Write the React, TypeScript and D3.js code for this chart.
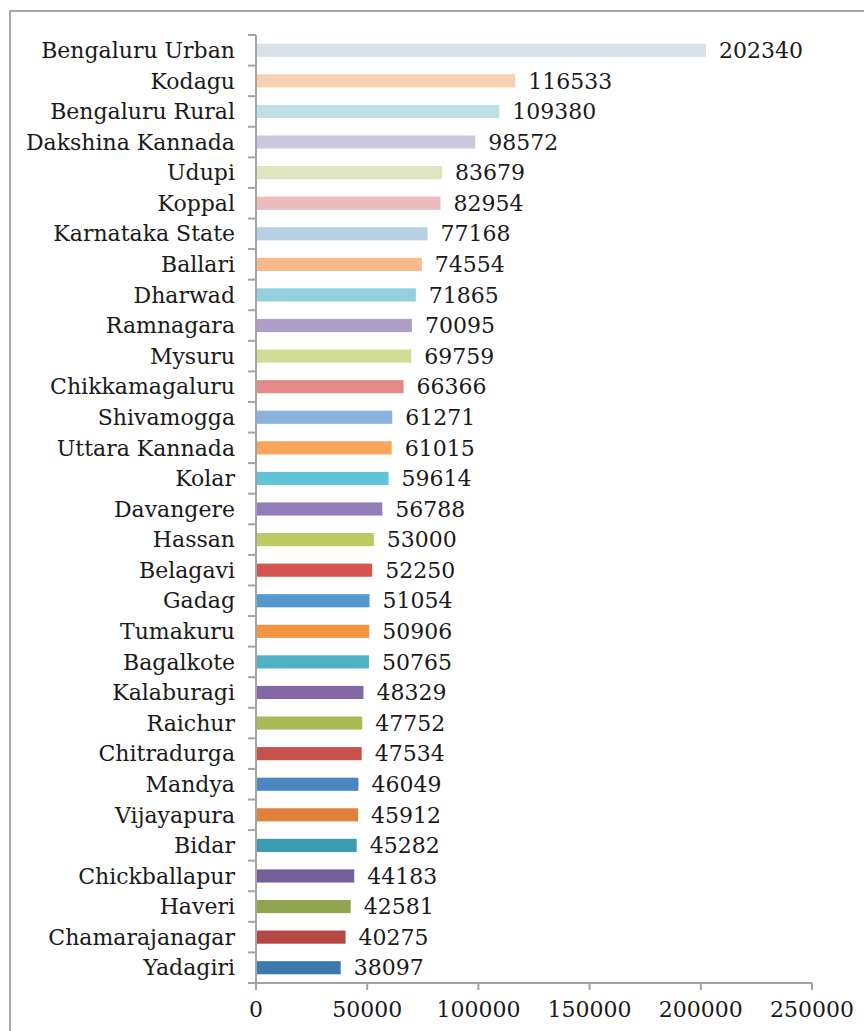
import { useEffect, useRef } from 'react';
import * as d3 from 'd3';

const districts = [
  'Bengaluru Urban', 'Kodagu', 'Bengaluru Rural', 'Dakshina Kannada', 'Udupi', 'Koppal',
  'Karnataka State', 'Ballari', 'Dharwad', 'Ramnagara', 'Mysuru', 'Chikkamagaluru',
  'Shivamogga', 'Uttara Kannada', 'Kolar', 'Davangere', 'Hassan', 'Belagavi', 'Gadag',
  'Tumakuru', 'Bagalkote', 'Kalaburagi', 'Raichur', 'Chitradurga', 'Mandya', 'Vijayapura',
  'Bidar', 'Chickballapur', 'Haveri', 'Chamarajanagar', 'Yadagiri',
];

const incomes = [
  202340, 116533, 109380, 98572, 83679, 82954, 77168, 74554, 71865, 70095, 69759, 66366,
  61271, 61015, 59614, 56788, 53000, 52250, 51054, 50906, 50765, 48329, 47752, 47534,
  46049, 45912, 45282, 44183, 42581, 40275, 38097,
];

const barColors = [
  '#d6e1e8', '#f9cfb2', '#bfdfe5', '#ccc7da', '#dce5bd', '#ebbcbb', '#b9cfe4', '#f9b98a',
  '#93cfdc', '#ae9ec8', '#d1dc96', '#e38a88', '#8ab2dc', '#f9a55c', '#62c4d8', '#917db8',
  '#b9cb62', '#d6544f', '#5597cf', '#f29442', '#4eb1c6', '#8268a5', '#a9bb56', '#c8504d',
  '#4a86c1', '#df813b', '#3b9cb1', '#745f98', '#91a44f', '#b54745', '#3d79ad',
];

const xTicks = [0, 50000, 100000, 150000, 200000, 250000];

const W = 864;
const H = 1031;
const FONT = '"DejaVu Serif", serif';
const FS = 22;

export default function App() {
  const svgRef = useRef<SVGSVGElement>(null);

  useEffect(() => {
    if (!svgRef.current) return;
    const svg = d3.select(svgRef.current);
    svg.selectAll('*').remove();

    const x = d3.scaleLinear().domain([0, 250000]).range([256, 812]);
    const y = d3.scaleBand<string>().domain(districts).range([35, 983]);
    const barH = y.bandwidth() * 0.43;
    const axisColor = '#a3a3a3';

    // outer frame
    svg.append('rect')
      .attr('x', 10).attr('y', 11)
      .attr('width', 900).attr('height', 1100)
      .attr('fill', 'none')
      .attr('stroke', '#a6a6a6')
      .attr('stroke-width', 2);

    // bars
    svg.append('g')
      .selectAll('rect')
      .data(incomes)
      .join('rect')
      .attr('x', x(0))
      .attr('y', (d, i) => (y(districts[i]) as number) + (y.bandwidth() - barH) / 2)
      .attr('width', d => x(d) - x(0))
      .attr('height', barH)
      .attr('fill', (d, i) => barColors[i]);

    // value labels
    svg.append('g')
      .selectAll('text')
      .data(incomes)
      .join('text')
      .attr('x', d => x(d) + 13)
      .attr('y', (d, i) => (y(districts[i]) as number) + y.bandwidth() / 2)
      .attr('dy', '0.35em')
      .attr('font-family', FONT)
      .attr('font-size', FS)
      .attr('fill', '#1a1a1a')
      .text(d => String(d));

    // category labels
    svg.append('g')
      .selectAll('text')
      .data(districts)
      .join('text')
      .attr('x', 235)
      .attr('y', d => (y(d) as number) + y.bandwidth() / 2)
      .attr('dy', '0.35em')
      .attr('text-anchor', 'end')
      .attr('font-family', FONT)
      .attr('font-size', FS)
      .attr('fill', '#1a1a1a')
      .text(d => d);

    // y axis line + ticks at band boundaries
    const yAxis = svg.append('g').attr('stroke', axisColor).attr('stroke-width', 2);
    yAxis.append('line')
      .attr('x1', x(0)).attr('x2', x(0))
      .attr('y1', y.range()[0]).attr('y2', y.range()[1]);
    const bounds = districts.map(d => y(d) as number).concat([y.range()[1]]);
    yAxis.selectAll('line.tick')
      .data(bounds)
      .join('line')
      .attr('class', 'tick')
      .attr('x1', x(0) - 8).attr('x2', x(0))
      .attr('y1', d => d).attr('y2', d => d);

    // x axis
    const xAxis = svg.append('g').attr('stroke', axisColor).attr('stroke-width', 2);
    xAxis.append('line')
      .attr('x1', x(0) - 8).attr('x2', x(250000))
      .attr('y1', y.range()[1]).attr('y2', y.range()[1]);
    xAxis.selectAll('line.tick')
      .data(xTicks)
      .join('line')
      .attr('class', 'tick')
      .attr('x1', d => x(d)).attr('x2', d => x(d))
      .attr('y1', y.range()[1]).attr('y2', y.range()[1] + 7);

    svg.append('g')
      .selectAll('text')
      .data(xTicks)
      .join('text')
      .attr('x', d => x(d))
      .attr('y', 1017)
      .attr('text-anchor', 'middle')
      .attr('font-family', FONT)
      .attr('font-size', FS)
      .attr('fill', '#1a1a1a')
      .text(d => String(d));
  }, []);

  return (
    <svg
      ref={svgRef}
      width={W}
      height={H}
      style={{ position: 'absolute', left: 0, top: 0, background: '#fff' }}
    />
  );
}
